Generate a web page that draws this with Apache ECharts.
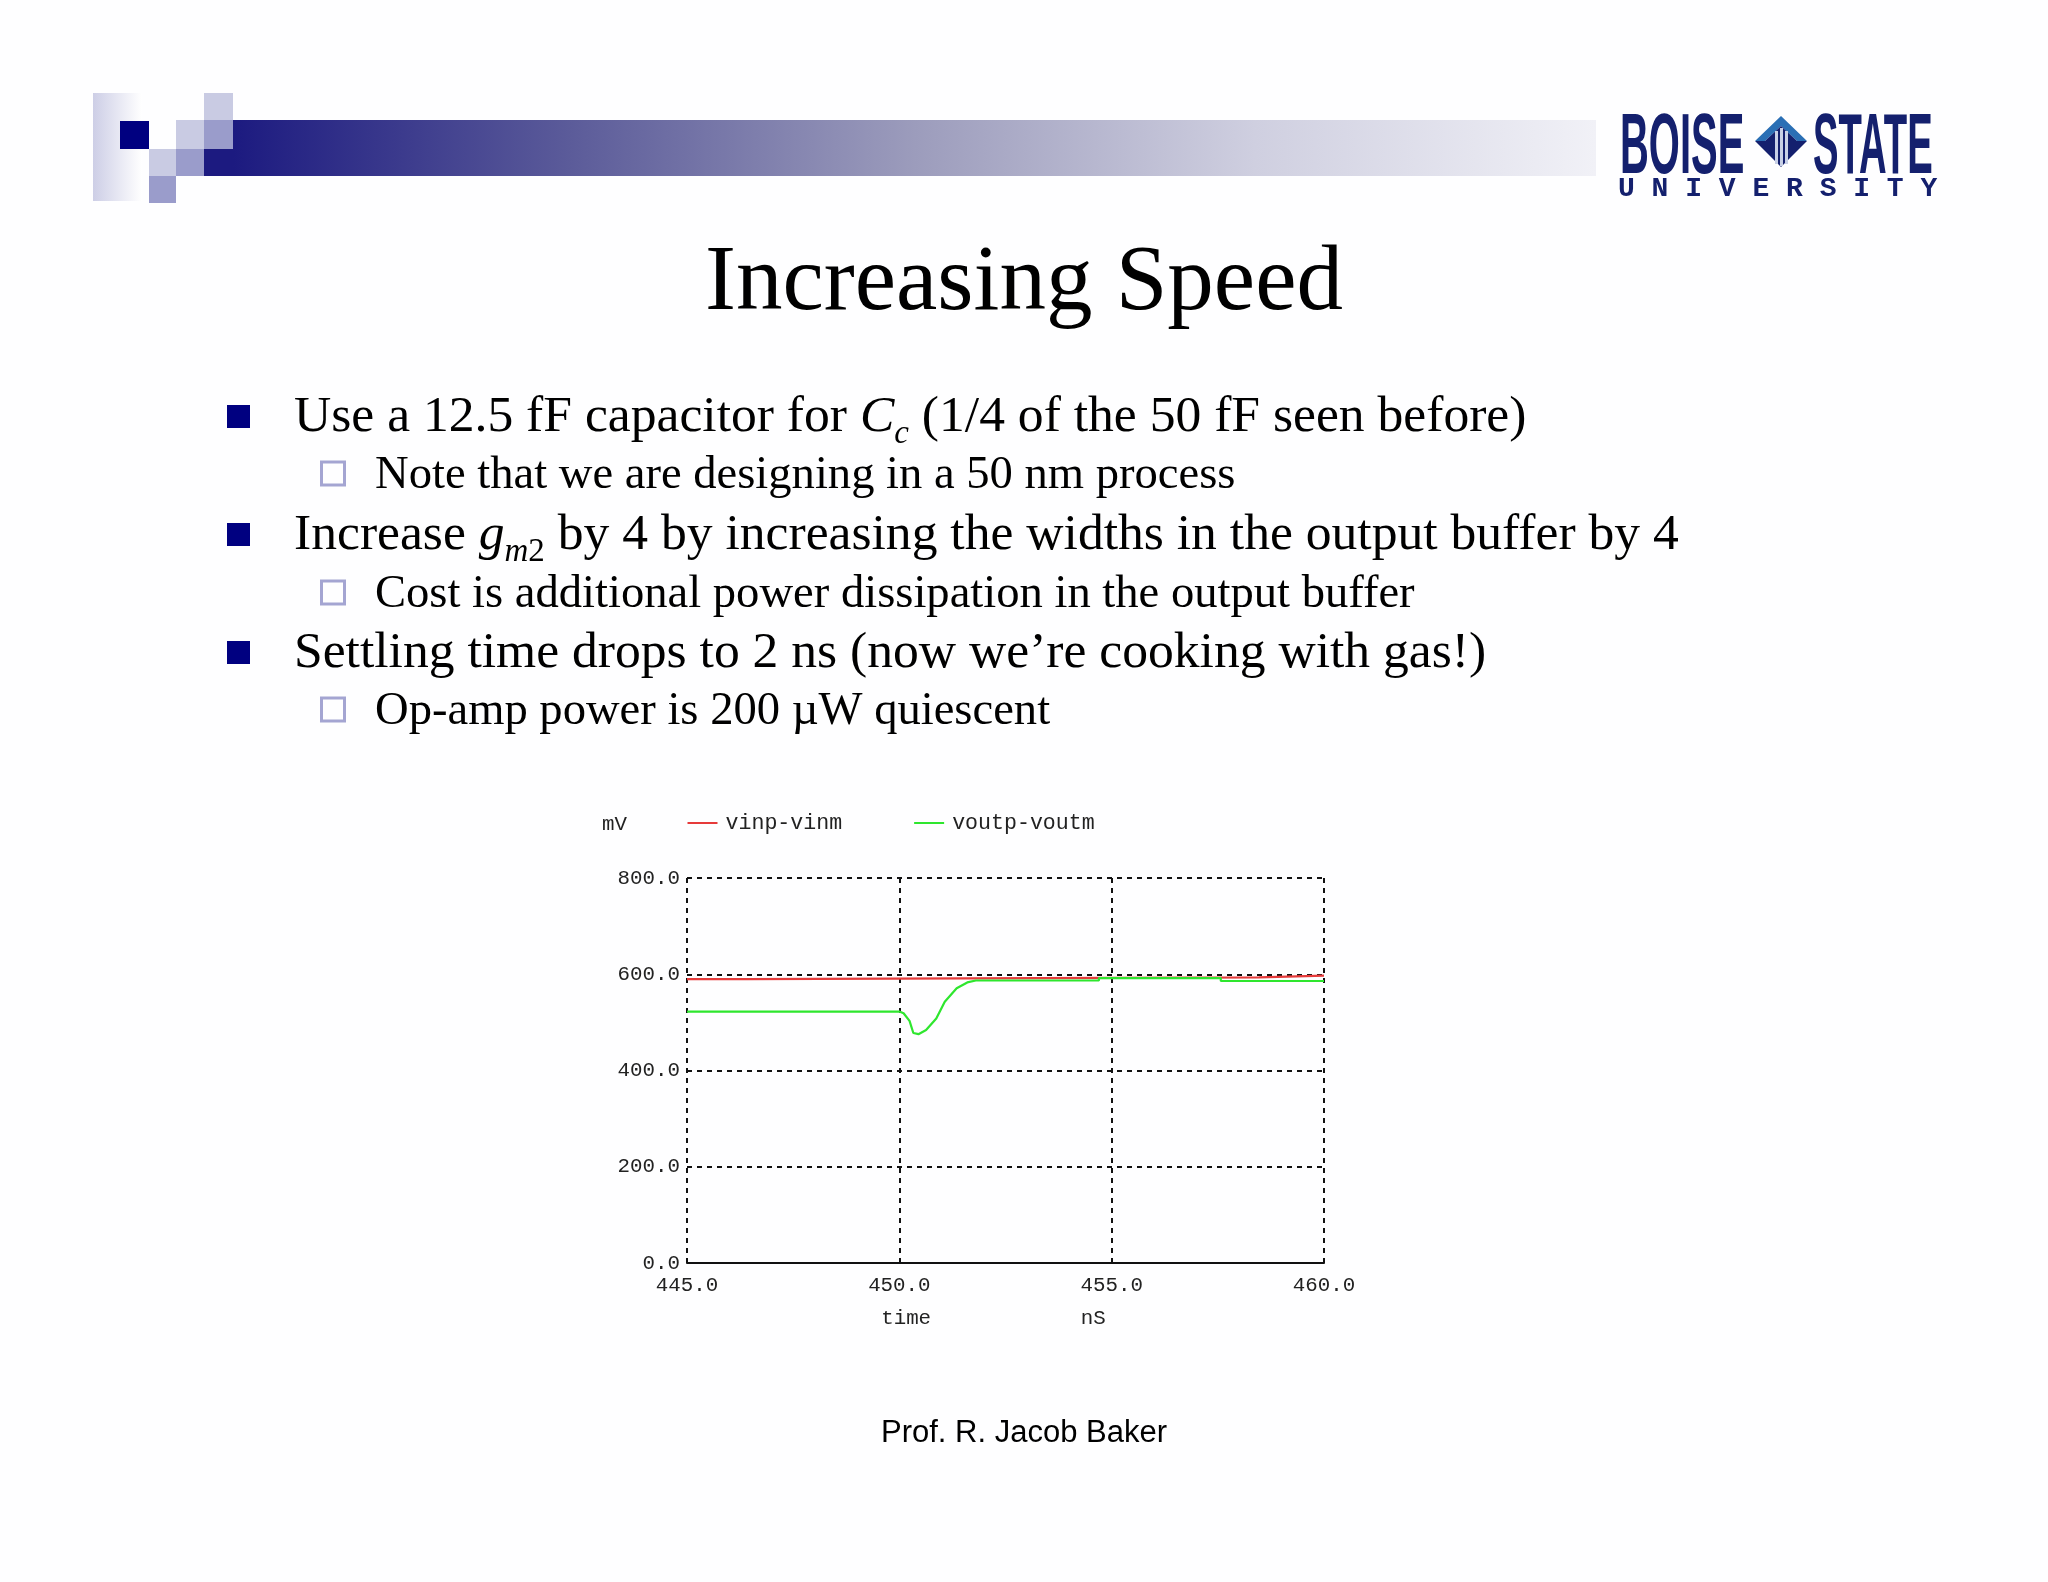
<!DOCTYPE html>
<html>
<head>
<meta charset="utf-8">
<title>Increasing Speed</title>
<script src="https://cdn.jsdelivr.net/npm/echarts@6/dist/echarts.min.js"></script>
<style>
  html, body { margin: 0; padding: 0; background: #fff; }
  #chart { width: 2048px; height: 1582px; }
</style>
</head>
<body>
<div id="chart"></div>
<script>
// values
const redTime = [445, 446.4, 446.4, 458.47, 458.47, 460];
const redVals = [590, 590, 593.5, 593.5, 597, 597];
const greenTime = [445, 450, 450.1, 450.24, 450.33, 450.45, 450.63, 450.87, 451.07, 451.35, 451.6, 451.8, 454.7, 454.7, 457.57, 457.57, 460];
const greenVals = [522.5, 522.5, 519, 503, 478, 475.5, 484, 508, 543, 571, 583, 587, 587, 592, 592, 586, 586];
const seriesNames = ['vinp-vinm', 'voutp-voutm'];

const bullets = [
  { y: 432, level: 1, text: '{a|Use a 12.5 fF capacitor for }{i|C}{s|c}{a| (1/4 of the 50 fF seen before)}' },
  { y: 490, level: 2, text: '{b|Note that we are designing in a 50 nm process}' },
  { y: 550, level: 1, text: '{a|Increase }{i|g}{s|m}{n|2}{a| by 4 by increasing the widths in the output buffer by 4}' },
  { y: 609, level: 2, text: '{b|Cost is additional power dissipation in the output buffer}' },
  { y: 668, level: 1, text: '{a|Settling time drops to 2 ns (now we\u2019re cooking with gas!)}' },
  { y: 726, level: 2, text: '{b|Op-amp power is 200 \u00b5W quiescent}' }
];

const SERIF = '"Liberation Serif", serif';
const SANS = '"Liberation Sans", sans-serif';
const MONO = '"Liberation Mono", monospace';
const NAVY = '#000080';
const LOGO = '#14206e';
const LILAC = '#c9cbe3';
const MID = '#9a9ccb';

function rect(x, y, w, h, fill) {
  return { type: 'rect', silent: true, shape: { x: x, y: y, width: w, height: h }, style: { fill: fill } };
}

function hgrad(stops) {
  return new echarts.graphic.LinearGradient(0, 0, 1, 0, stops);
}

var graphics = [
  // header blocks
  rect(93, 93, 49, 108, hgrad([{ offset: 0, color: '#cdcee6' }, { offset: 1, color: '#ffffff' }])),
  rect(233, 120, 1363, 56, hgrad([
    { offset: 0, color: '#1c1a80' },
    { offset: 0.25, color: '#5c5c9a' },
    { offset: 0.5, color: '#9c9cbc' },
    { offset: 0.75, color: '#cfcfe0' },
    { offset: 1, color: '#f1f1f7' }
  ])),
  rect(204, 149, 29, 27, '#1c1a80'),
  rect(120, 121, 29, 28, NAVY),
  rect(204, 93, 29, 27, LILAC),
  rect(176, 120, 28, 29, LILAC),
  rect(204, 120, 29, 29, MID),
  rect(149, 149, 27, 27, LILAC),
  rect(176, 149, 28, 27, MID),
  rect(149, 176, 27, 27, MID),

  // logo
  { type: 'text', silent: true, x: 1620, y: 192, scaleX: 0.47, style: { text: 'BOISE', fontFamily: SANS, fontWeight: 'bold', fontSize: 85, fill: LOGO, verticalAlign: 'bottom' } },
  { type: 'text', silent: true, x: 1813, y: 192, scaleX: 0.45, style: { text: 'STATE', fontFamily: SANS, fontWeight: 'bold', fontSize: 85, fill: LOGO, verticalAlign: 'bottom' } },
  { type: 'polygon', silent: true, shape: { points: [[1755, 141], [1781, 116], [1807, 141], [1797, 141], [1781, 126], [1765, 141]] }, style: { fill: '#2a6fb5' } },
  { type: 'polygon', silent: true, shape: { points: [[1755, 141], [1765, 141], [1781, 126], [1797, 141], [1807, 141], [1781, 167]] }, style: { fill: LOGO } },
  rect(1775, 131, 3, 33, '#c8d0e6'),
  rect(1780, 128, 3, 38, '#c8d0e6'),
  rect(1785, 131, 3, 33, '#c8d0e6'),
  { type: 'text', silent: true, x: 1618, y: 175, style: { text: 'U N I V E R S I T Y', fontFamily: MONO, fontWeight: 'bold', fontSize: 28, fill: LOGO } },

  // slide title
  { type: 'text', silent: true, x: 1024, y: 238, style: { text: 'Increasing Speed', fontFamily: SERIF, fontSize: 93, fill: '#000', align: 'center' } },

  // footer
  { type: 'text', silent: true, x: 1024, y: 1418, style: { text: 'Prof. R. Jacob Baker', fontFamily: SANS, fontSize: 31, fill: '#000', align: 'center' } }
];

bullets.forEach(function (b) {
  var isTop = b.level === 1;
  if (isTop) {
    graphics.push(rect(227, b.y - 27, 23, 23, NAVY));
  } else {
    graphics.push({
      type: 'rect', silent: true,
      shape: { x: 321.5, y: b.y - 28, width: 23, height: 23 },
      style: { fill: 'transparent', stroke: '#a4a5d2', lineWidth: 3 }
    });
  }
  graphics.push({
    type: 'text', silent: true,
    x: isTop ? 294 : 375,
    y: b.y - (isTop ? 14.5 : 14),
    style: {
      text: b.text,
      fill: '#000',
      verticalAlign: 'middle',
      rich: {
        a: { fontFamily: SERIF, fontSize: 51.6, lineHeight: 66 },
        b: { fontFamily: SERIF, fontSize: 46.6, lineHeight: 66 },
        i: { fontFamily: SERIF, fontStyle: 'italic', fontSize: 51.6, lineHeight: 66 },
        s: { fontFamily: SERIF, fontStyle: 'italic', fontSize: 33, lineHeight: 66, verticalAlign: 'bottom' },
        n: { fontFamily: SERIF, fontSize: 33, lineHeight: 66, verticalAlign: 'bottom' }
      }
    }
  });
});

var chart = echarts.init(document.getElementById('chart'), null, { renderer: 'canvas' });

var option = {
  backgroundColor: '#fefeff',
  animation: false,
  color: ['#e63a3a', '#2ee62e'],
  grid: { left: 687, top: 878, width: 637, height: 385 },
  legend: {
    left: 687.5,
    top: 812,
    padding: 0,
    itemWidth: 30,
    itemHeight: 2,
    itemGap: 72,
    icon: 'rect',
    data: seriesNames,
    textStyle: { fontFamily: MONO, fontSize: 21.6, color: '#222', padding: [0, 0, 0, 3] }
  },
  xAxis: {
    type: 'value',
    min: 445,
    max: 460,
    interval: 5,
    name: 'time            nS',
    nameLocation: 'middle',
    nameGap: 45,
    nameTextStyle: { fontFamily: MONO, fontSize: 20.8, color: '#222', padding: [0, 24, 0, 0] },
    axisLine: { show: true, onZero: false, lineStyle: { color: '#111', width: 2 } },
    axisTick: { show: false },
    axisLabel: {
      margin: 12,
      fontFamily: MONO,
      fontSize: 20.8,
      color: '#222',
      hideOverlap: false,
      formatter: function (v) { return v.toFixed(1); }
    },
    splitLine: { show: true, lineStyle: { color: '#111', width: 2, type: [5, 5] } }
  },
  yAxis: {
    type: 'value',
    min: 0,
    max: 800,
    interval: 200,
    name: 'mV',
    nameLocation: 'end',
    nameGap: 43,
    nameTextStyle: { fontFamily: MONO, fontSize: 20.8, color: '#222', align: 'right', padding: [0, 60, 0, 0] },
    axisLine: { show: false },
    axisTick: { show: false },
    axisLabel: {
      margin: 7,
      fontFamily: MONO,
      fontSize: 20.8,
      color: '#222',
      formatter: function (v) { return v.toFixed(1); }
    },
    splitLine: { show: true, lineStyle: { color: '#111', width: 2, type: [5, 5] } }
  },
  series: [
    {
      name: seriesNames[0],
      type: 'line',
      showSymbol: false,
      z: 3,
      lineStyle: { width: 2.2 },
      data: redTime.map(function (t, i) { return [t, redVals[i]]; })
    },
    {
      name: seriesNames[1],
      type: 'line',
      showSymbol: false,
      z: 4,
      lineStyle: { width: 2.2 },
      data: greenTime.map(function (t, i) { return [t, greenVals[i]]; })
    }
  ],
  graphic: { elements: graphics }
};

chart.setOption(option);
</script>
</body>
</html>
